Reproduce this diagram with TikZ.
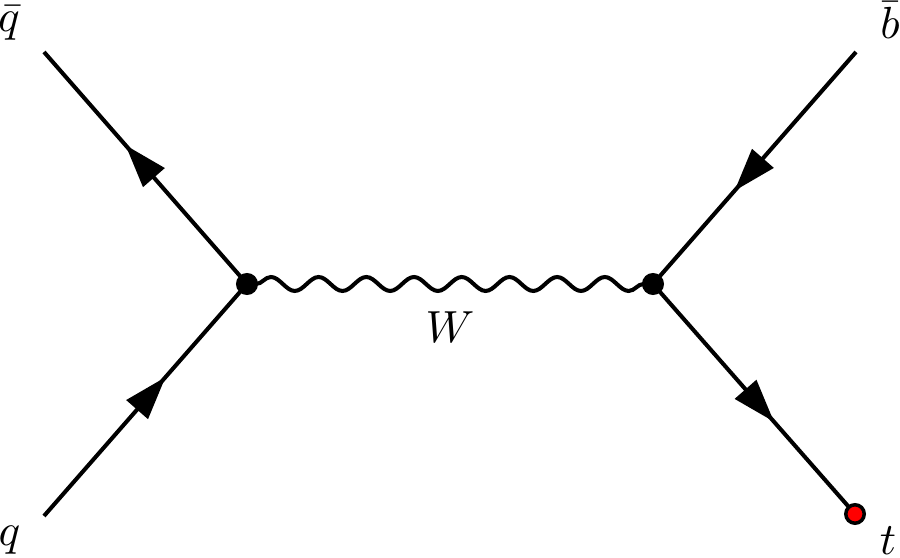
\documentclass[tikz,border=0pt]{standalone}
\usetikzlibrary{arrows.meta,decorations.markings,decorations.pathmorphing}
\begin{document}
\begin{tikzpicture}[x=0.2222pt,y=-0.2222pt,
  fermion/.style={line width=0.9pt, postaction={decorate},
    decoration={markings, mark=at position 0.6 with {\arrow{Triangle[length=9.6pt,width=6.2pt]}}}},
  photon/.style={line width=0.9pt, decorate,
    decoration={snake, amplitude=1.55pt, segment length=10.6pt, pre length=2pt, post length=2pt}},
  vtx/.style={circle, fill=black, inner sep=0pt, minimum size=4.9pt},
  extdot/.style={circle, fill=red, draw=black, line width=0.78pt, inner sep=0pt, minimum size=4.1pt},
  lbl/.style={inner sep=0pt, anchor=base}]
\useasboundingbox (0,0) rectangle (900,558);
% points
\coordinate (vl) at (247,284);
\coordinate (vr) at (653,284);
\coordinate (qbarEnd) at (44,52);
\coordinate (qEnd) at (44,516);
\coordinate (bbarEnd) at (856,52);
\coordinate (tEnd) at (855,514);
% lines
\draw[fermion] (vl) -- (qbarEnd);
\draw[fermion] (qEnd) -- (vl);
\draw[fermion] (bbarEnd) -- (vr);
\draw[fermion] (vr) -- (tEnd);
\draw[photon] (vl) -- (vr);
% dots
\node[vtx] (vldot) at (vl) {};
\node[vtx] (vrdot) at (vr) {};
\node[extdot] (tdot) at (tEnd) {};
% labels
\node[lbl] (lqbar) at (9,32) {$\bar{q}$};
\node[lbl] (lq) at (9.5,546) {$q$};
\node[lbl] (lbbar) at (890,39) {$\bar{b}$};
\node[lbl] (lt) at (888,555) {$t$};
\node[lbl] (lW) at (450,343) {$W$};
\end{tikzpicture}
\end{document}
